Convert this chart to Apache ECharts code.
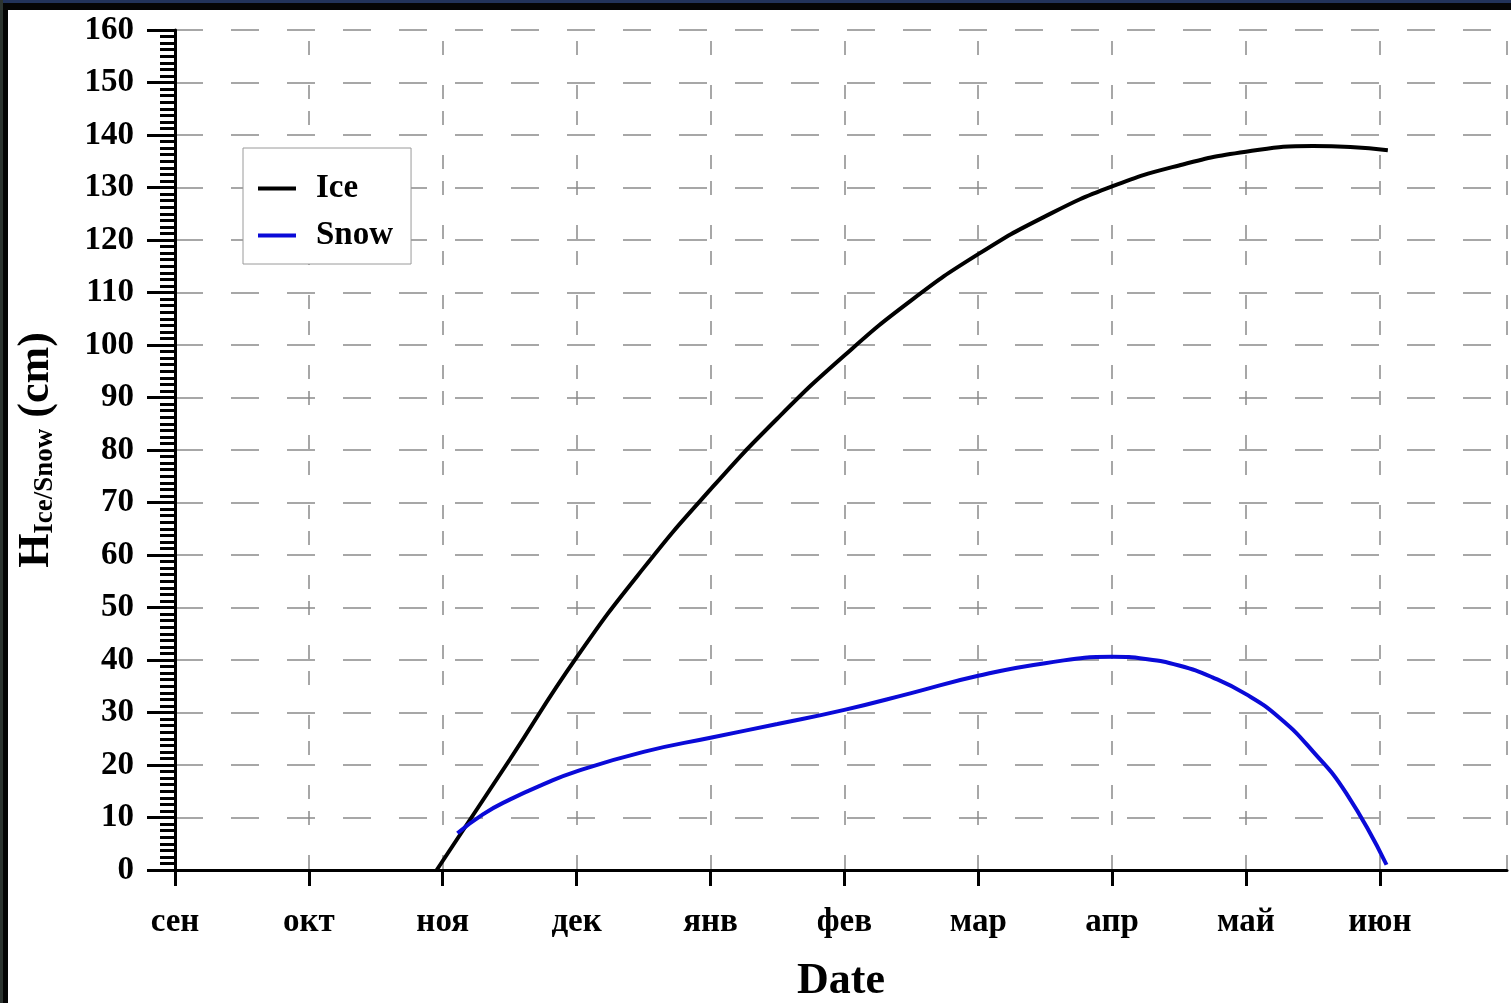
<!DOCTYPE html>
<html>
<head>
<meta charset="utf-8">
<script src="https://cdn.jsdelivr.net/npm/echarts@6/dist/echarts.min.js"></script>
<style>
  html, body { margin: 0; padding: 0; width: 1511px; height: 1003px; overflow: hidden; background: #050505; }
  #topstrip { position: absolute; left: 0; top: 0; width: 1511px; height: 3px; background: #22335a; }
  #leftstrip { position: absolute; left: 0; top: 0; width: 3px; height: 1003px; background: #2c3430; }
  #chart { position: absolute; left: 8px; top: 10px; width: 1503px; height: 993px; background: #ffffff; }
</style>
</head>
<body>
<div id="topstrip"></div>
<div id="leftstrip"></div>
<div id="chart"></div>
<script>
// Month tick labels (x = months since start of September)
const monthLabels = ['сен', 'окт', 'ноя', 'дек', 'янв', 'фев', 'мар', 'апр', 'май', 'июн'];

// Ice thickness (cm)
const iceX = [1.955, 2.5, 3.0, 3.5, 4.0, 4.5, 5.0, 5.5, 6.0, 6.5, 7.0, 7.5, 8.0, 8.5, 9.06];
const iceY = [0, 21, 40.5, 57.5, 72.5, 86, 98, 108.5, 117.3, 124.5, 130.2, 134.2, 136.8, 137.9, 137.1];

// Snow depth (cm)
const snowX = [2.11, 2.3, 2.5, 2.75, 3.0, 3.5, 4.0, 4.5, 5.0, 5.5, 6.0, 6.5, 7.0, 7.25, 7.5, 7.75, 8.0, 8.25, 8.5, 8.75, 9.05];
const snowY = [7.0, 10.6, 13.4, 16.3, 18.8, 22.5, 25.2, 27.8, 30.5, 33.7, 37.0, 39.4, 40.6, 40.2, 38.95, 36.7, 33.5, 29.0, 22.6, 14.6, 1.0];

const yTicks = { min: 0, max: 160, interval: 10 };

const serif = '"Liberation Serif", "Times New Roman", serif';

const chart = echarts.init(document.getElementById('chart'));
const pair = (xs, ys) => xs.map((x, i) => [x, ys[i]]);

chart.setOption({
  animation: false,
  backgroundColor: '#ffffff',
  grid: { left: 167, top: 20, right: 4, bottom: 133, containLabel: false, outerBoundsMode: 'none' },
  legend: {
    orient: 'vertical',
    left: 235, top: 138,
    padding: [24, 18, 12, 15],
    backgroundColor: '#ffffff',
    borderColor: '#9a9a9a',
    borderWidth: 1,
    itemWidth: 38, itemHeight: 4,
    itemGap: 14,
    icon: 'rect',
    textStyle: { fontFamily: serif, fontWeight: 'bold', fontSize: 33, color: '#000', lineHeight: 33, padding: [0, 0, 0, 15] },
    data: ['Ice', 'Snow']
  },
  xAxis: {
    type: 'value',
    min: 0, max: 9.95, interval: 1,
    name: 'Date',
    nameLocation: 'middle',
    nameGap: 90,
    nameTextStyle: { fontFamily: serif, fontWeight: 'bold', fontSize: 44, color: '#000' },
    axisLine: { onZero: false, lineStyle: { color: '#000', width: 3 } },
    axisTick: { show: true, inside: false, length: 16, lineStyle: { color: '#000', width: 3 } },
    axisLabel: {
      margin: 36,
      fontFamily: serif, fontWeight: 'bold', fontSize: 33, color: '#000',
      showMaxLabel: false,
      formatter: v => { const i = Math.round(v); return (Math.abs(v - i) < 1e-6 && monthLabels[i]) ? monthLabels[i] : ''; }
    },
    splitLine: { show: true, lineStyle: { color: '#8a8a8a', width: 1.5, type: [14, 12, 14, 30], dashOffset: 15 } }
  },
  yAxis: {
    type: 'value',
    min: yTicks.min, max: yTicks.max, interval: yTicks.interval,
    name: '{h|H}{s|Ice/Snow}{h| (cm)}',
    nameLocation: 'middle',
    nameRotate: 90,
    nameGap: 116,
    nameTextStyle: {
      color: '#000',
      rich: {
        h: { fontFamily: serif, fontWeight: 'bold', fontSize: 44, lineHeight: 44, color: '#000' },
        s: { fontFamily: serif, fontWeight: 'bold', fontSize: 27, lineHeight: 22, verticalAlign: 'bottom', color: '#000' }
      }
    },
    axisLine: { show: true, lineStyle: { color: '#000', width: 3 } },
    axisTick: { show: true, inside: false, length: 28, lineStyle: { color: '#000', width: 3 } },
    minorTick: { show: true, splitNumber: 8, length: 15, lineStyle: { color: '#000', width: 3 } },
    axisLabel: { margin: 41, fontFamily: serif, fontWeight: 'bold', fontSize: 33, color: '#000' },
    splitLine: { show: true, lineStyle: { color: '#8a8a8a', width: 1.5, type: [28, 28], dashOffset: 0 } }
  },
  series: [
    {
      name: 'Ice', type: 'line', data: pair(iceX, iceY),
      smooth: 0.5, showSymbol: false, symbol: 'none',
      lineStyle: { color: '#000000', width: 4 }, itemStyle: { color: '#000000' }, z: 3
    },
    {
      name: 'Snow', type: 'line', data: pair(snowX, snowY),
      smooth: 0.5, showSymbol: false, symbol: 'none',
      lineStyle: { color: '#0a0ad8', width: 4 }, itemStyle: { color: '#0a0ad8' }, z: 3
    }
  ]
});
</script>
</body>
</html>
